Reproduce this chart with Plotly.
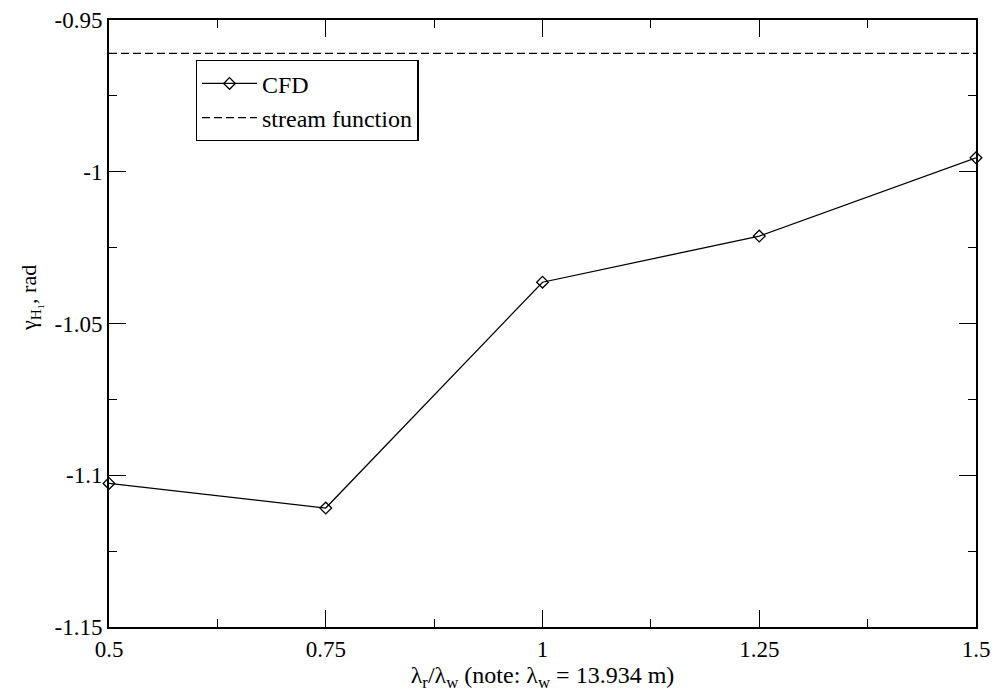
import plotly.graph_objects as go

# data
ratio = [0.5, 0.75, 1.0, 1.25, 1.5]
cfd_gamma = [-1.1027, -1.1108, -1.0364, -1.0212, -0.9954]
stream_x = [0.5, 1.5]
stream_gamma = [-0.961, -0.961]

FONT = "Liberation Serif, Times New Roman, serif"

fig = go.Figure()
fig.add_trace(go.Scatter(
    x=ratio, y=cfd_gamma, mode="lines+markers", name="CFD",
    line=dict(color="black", width=1.3),
    marker=dict(symbol="diamond-open", size=9, color="black", line=dict(width=1.3, color="black")),
    cliponaxis=False,
))
fig.add_trace(go.Scatter(
    x=stream_x, y=stream_gamma, mode="lines", name="stream function",
    line=dict(color="black", width=1.3, dash="8px,4px"),
))

axis_common = dict(
    showline=True, linecolor="black", linewidth=2, mirror="ticks",
    ticks="inside", ticklen=17, tickwidth=1.3, tickcolor="black",
    showgrid=False, zeroline=False, automargin=False,
    tickfont=dict(family=FONT, size=23, color="black"),
)

fig.update_xaxes(
    range=[0.5, 1.5], dtick=0.25, tick0=0.5,
    minor=dict(ticks="inside", ticklen=8, dtick=0.125, tick0=0.5, tickcolor="black", tickwidth=1.3, showgrid=False),
    title=dict(text="λ<sub>r</sub>/λ<sub>w</sub> (note: λ<sub>w</sub> = 13.934 m)",
               font=dict(family=FONT, size=24, color="black"), standoff=2),
    **axis_common,
)
fig.update_yaxes(
    range=[-1.15, -0.95], dtick=0.05, tick0=-1.15,
    minor=dict(ticks="inside", ticklen=8, dtick=0.025, tick0=-1.15, tickcolor="black", tickwidth=1.3, showgrid=False),
    tickvals=[-1.15, -1.1, -1.05, -1.0, -0.95],
    ticktext=["-1.15", "-1.1", "-1.05", "-1", "-0.95"],
    **axis_common,
)

fig.add_annotation(
    text="γ<sub>H₁</sub>, rad", xref="paper", yref="paper",
    x=-0.091, y=0.542, xanchor="center", yanchor="middle",
    textangle=-90, showarrow=False,
    font=dict(family=FONT, size=22, color="black"),
)

fig.update_layout(
    width=995, height=693,
    margin=dict(l=109, r=19, t=20, b=66),
    plot_bgcolor="white", paper_bgcolor="white",
    font=dict(family=FONT, color="black"),
    legend=dict(
        x=0.1, y=0.934, xanchor="left", yanchor="top",
        bgcolor="white", bordercolor="black", borderwidth=1.3,
        font=dict(family=FONT, size=24, color="black"),
        tracegroupgap=0, itemwidth=55,
    ),
    showlegend=True,
)

fig.write_html("out.html", config={"displayModeBar": False},
               post_script="document.body.style.margin='0';document.body.style.overflow='hidden';")
